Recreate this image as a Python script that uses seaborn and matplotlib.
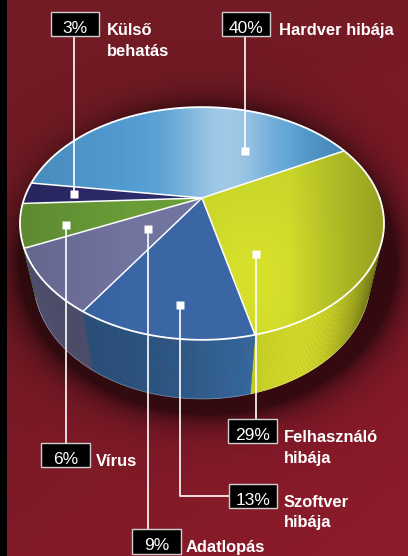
import numpy as np
import matplotlib
matplotlib.use("Agg")
import matplotlib.pyplot as plt
import seaborn as sns
from matplotlib.patches import Polygon, Rectangle
from matplotlib.collections import PolyCollection
from matplotlib.colors import to_rgb

sns.set_theme(style="white")
plt.rcParams['font.family'] = ['Liberation Sans', 'DejaVu Sans']

# ---- data -------------------------------------------------------------
categories = ["Hardver hibája", "Külső behatás", "Vírus", "Adatlopás",
              "Szoftver hibája", "Felhasználó hibája"]
label_lines = [["Hardver hibája"], ["Külső", "behatás"], ["Vírus"],
               ["Adatlopás"], ["Szoftver", "hibája"], ["Felhasználó", "hibája"]]
shares = [40, 3, 6, 9, 13, 29]
pct_labels = ["40%", "3%", "6%", "9%", "13%", "29%"]
top_colors = sns.color_palette(["#529cd2", "#2c2b6a", "#6a9c38", "#7274a0",
                                "#3a66a6", "#c8d42c"])
side_colors = sns.color_palette(["#4a8cc0", "#262458", "#5c8a30", "#6c6d96",
                                 "#3a70aa", "#d4dc2a"])

# ---- canvas -----------------------------------------------------------
W, H = 408, 556
fig = plt.figure(figsize=(W / 100, H / 100), dpi=100)
ax = fig.add_axes([0, 0, 1, 1])
ax.set_axis_off()

yy, xx = np.mgrid[0:H, 0:W] + 0.5
c0, c1 = np.array(to_rgb("#731b24")), np.array(to_rgb("#931a2d"))
t = np.clip(0.45 * xx / W + 0.75 * yy / H - 0.35, 0, 1)
bg = c0 + (c1 - c0) * t[..., None]
ax.imshow(bg, extent=(0, W, H, 0), zorder=0, interpolation="bilinear")

# soft dark halo under the pie
rho = np.hypot((xx - 208) / 188, (yy - 262) / 152)
shadow = np.zeros((H, W, 4))
shadow[..., 3] = 0.6 * np.exp(-np.clip(rho - 1, 0, None) / 0.10)
ax.imshow(shadow, extent=(0, W, H, 0), zorder=1, interpolation="bilinear")

ax.add_patch(Rectangle((0, 0), 7, H, color="black", zorder=2, lw=0))

# ---- perspective pie --------------------------------------------------
PHI = np.radians(38.6)
DIST = 3.57
FOC = 634
CX, CY = 202, 198
THICK = 0.445
START = 28.0
cphi, sphi = np.cos(PHI), np.sin(PHI)


def project(X, Y, Z):
    vy = Y + DIST * cphi
    vz = Z - DIST * sphi
    depth = vy * cphi - vz * sphi
    up = vy * sphi + vz * cphi
    return CX + FOC * X / depth, CY - FOC * up / depth


def rim(theta_deg, z=0.0):
    th = np.radians(theta_deg)
    return project(np.cos(th), np.sin(th), z)


bounds = START + 360 * np.concatenate([[0], np.cumsum(shares)]) / sum(shares)


def side_shade(theta):
    d = theta - 298.0
    if d > 0:
        return 0.42 + 0.58 * np.exp(-(d / 28) ** 2)
    return 0.72 + 0.28 * np.exp(-(d / 30) ** 2)


strips, strip_cols, strip_keys = [], [], []
for i in range(len(shares)):
    a, b = bounds[i], bounds[i + 1]
    for lo, hi in ((a, b), (a - 360, b - 360)):
        lo2, hi2 = max(lo, 180), min(hi, 360)
        if hi2 <= lo2:
            continue
        ths = np.linspace(lo2, hi2, max(2, int((hi2 - lo2) / 0.5) + 1))
        for t1, t2 in zip(ths[:-1], ths[1:]):
            x1, y1 = rim(t1)
            x2, y2 = rim(t2)
            x3, y3 = rim(t2, -THICK)
            x4, y4 = rim(t1, -THICK)
            strips.append([(x1, y1), (x2, y2), (x3, y3), (x4, y4)])
            f = side_shade(0.5 * (t1 + t2))
            strip_cols.append(tuple(np.clip(np.array(side_colors[i]) * f, 0, 1)))
            strip_keys.append(-np.sin(np.radians(0.5 * (t1 + t2))))
order = np.argsort(strip_keys)
ax.add_collection(PolyCollection([strips[k] for k in order],
                                 facecolors=[strip_cols[k] for k in order],
                                 edgecolors=[strip_cols[k] for k in order],
                                 linewidths=0.4, zorder=4))

# bottom rim line
th_front = np.linspace(200, 340, 200)
bx, by = rim(th_front, -THICK)
ax.plot(bx, by, color="white", lw=0.6, alpha=0.3, zorder=4.5)

# top face wedges
wedge_patches = []
for i in range(len(shares)):
    ths = np.linspace(bounds[i], bounds[i + 1], 200)
    px, py = rim(ths)
    pts = np.column_stack([np.r_[CX, px], np.r_[CY, py]])
    ax.add_patch(Polygon(pts, closed=True, facecolor=top_colors[i],
                         edgecolor="none", zorder=5))
    wedge_patches.append(Polygon(pts, closed=True, transform=ax.transData))

# lighting over the top face
ths = np.linspace(0, 360, 400)
ex, ey = rim(ths)
top_patch = Polygon(np.column_stack([ex, ey]), closed=True,
                    transform=ax.transData)

sheen = np.ones((H, W, 4))
sheen[..., 3] = 0.46 * np.exp(-((xx - 226) / 50) ** 2)
im = ax.imshow(sheen, extent=(0, W, H, 0), zorder=6, interpolation="bilinear")
im.set_clip_path(wedge_patches[0])

glow = np.zeros((H, W, 4))
glow[..., :3] = to_rgb("#e4ec2a")
glow[..., 3] = 0.55 * np.exp(-(((xx - 255) / 60) ** 2 + ((yy - 280) / 80) ** 2))
im3 = ax.imshow(glow, extent=(0, W, H, 0), zorder=6, interpolation="bilinear")
im3.set_clip_path(wedge_patches[-1])

dark = np.zeros((H, W, 4))
dark[..., 3] = (0.25 * np.clip((xx - 290) / 95, 0, 1)
                + 0.12 * np.clip((130 - xx) / 110, 0, 1))
im2 = ax.imshow(dark, extent=(0, W, H, 0), zorder=6, interpolation="bilinear")
im2.set_clip_path(top_patch)

# white outlines
ax.plot(ex, ey, color="white", lw=1.3, zorder=7, solid_joinstyle="round")
for bnd in bounds[:-1]:
    x, y = rim(bnd)
    ax.plot([CX, x], [CY, y], color="white", lw=1.1, zorder=7)

# ---- callouts ---------------------------------------------------------
# anchor on the wedge, box (x, y, w, h), label x, text baseline, leader path
callouts = [
    dict(anchor=(245, 151), box=(222, 12, 48, 24), tx=279, base=35, path="up"),
    dict(anchor=(74, 194), box=(51, 12, 48, 24), tx=107, base=35, path="up"),
    dict(anchor=(66, 225), box=(41, 443, 49, 24), tx=96, base=466, path="down"),
    dict(anchor=(148, 229), box=(132, 529, 49, 25), tx=186, base=552, path="down"),
    dict(anchor=(180, 305), box=(229, 484, 48, 24), tx=284, base=507, path="elbow"),
    dict(anchor=(256, 254), box=(228, 419, 49, 24), tx=284, base=442, path="down"),
]

for i, co in enumerate(callouts):
    axx, ayy = co["anchor"]
    bx0, by0, bw, bh = co["box"]
    if co["path"] == "up":
        lx, ly = [axx, axx], [ayy, by0 + bh]
    elif co["path"] == "down":
        lx, ly = [axx, axx], [ayy, by0]
    else:
        ymid = by0 + bh / 2
        lx, ly = [axx, axx, bx0], [ayy, ymid, ymid]
    ax.plot(lx, ly, color="white", lw=1.2, zorder=8, solid_capstyle="butt")
    ax.plot([axx], [ayy], marker="s", ms=5.2, color="white", mec="none",
            zorder=9)
    ax.add_patch(Rectangle((bx0, by0), bw, bh, facecolor="black",
                           edgecolor="#cfcfcf", lw=1.0, zorder=10))
    ax.text(bx0 + bw / 2, co["base"] - 2, pct_labels[i], color="white",
            fontsize=12.5, ha="center", va="baseline", zorder=11)
    for j, line in enumerate(label_lines[i]):
        ax.text(co["tx"], co["base"] + 20.5 * j, line, color="white",
                fontsize=11.9, fontweight="bold", ha="left", va="baseline",
                zorder=11)

ax.set_xlim(0, W)
ax.set_ylim(H, 0)
ax.set_aspect("auto")
fig.savefig("out.png", dpi=100)
